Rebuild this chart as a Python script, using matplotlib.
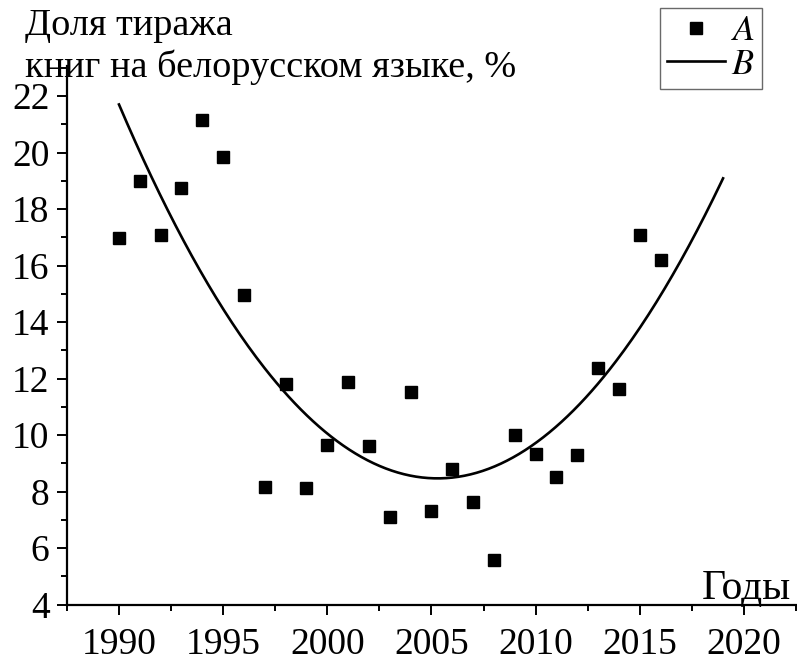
import numpy as np
import matplotlib
matplotlib.use("Agg")
import matplotlib.pyplot as plt
from matplotlib.ticker import MultipleLocator
from matplotlib.lines import Line2D

years = list(range(1990, 2017))
share_a = [16.96, 19.0, 17.07, 18.75, 21.14, 19.83, 14.96, 8.17, 11.81, 8.12,
           9.66, 11.89, 9.6, 7.10, 11.51, 7.31, 8.80, 7.63, 5.58, 10.0,
           9.32, 8.50, 9.29, 12.36, 11.63, 17.08, 16.18]
trend_years = [1990, 2019]

plt.rcParams['font.family'] = ['Liberation Serif', 'DejaVu Serif']
plt.rcParams['mathtext.fontset'] = 'stix'

fig = plt.figure(figsize=(7.97, 6.62), dpi=100)
ax = fig.add_axes([66.9 / 797, (662 - 604.5) / 662, 730.1 / 797, (604.5 - 66) / 662])

ax.plot(years, share_a, linestyle='none', marker='s', markersize=8.8,
        color='black', label='A')

coef = np.polyfit(years, share_a, 2)
xs = np.linspace(trend_years[0], trend_years[1], 300)
ax.plot(xs, np.polyval(coef, xs), color='black', linewidth=1.9, label='B')

ax.set_xlim(1987.5, 2022.55)
ax.set_ylim(4, 4 + (604.5 - 66) / 28.25)
for s in ['top', 'right']:
    ax.spines[s].set_visible(False)
for s in ['left', 'bottom']:
    ax.spines[s].set_linewidth(1.6)

ax.xaxis.set_major_locator(MultipleLocator(5))
ax.xaxis.set_minor_locator(MultipleLocator(2.5))
ax.yaxis.set_minor_locator(MultipleLocator(1))
ax.set_yticks(range(4, 23, 2))
ax.tick_params(which='major', length=7.5, width=1.4, labelsize=27, direction='out')
ax.tick_params(which='minor', length=4.5, width=1.4, direction='out')
ax.tick_params(axis='x', which='major', pad=9)
ax.tick_params(axis='y', which='major', pad=5)

fig.text(25 / 797, 1 - 35 / 662, 'Доля тиража', ha='left', va='baseline', fontsize=27.5)
fig.text(25 / 797, 1 - 77 / 662, 'книг на белорусском языке, %', ha='left',
         va='baseline', fontsize=27.5)
fig.text(791 / 797, 1 - 599 / 662, 'Годы', ha='right', va='baseline', fontsize=30)

handles = [Line2D([], [], linestyle='none', marker='s', markersize=8.8, color='black'),
           Line2D([], [], color='black', linewidth=1.9)]
leg = fig.legend(handles, ['$A$', '$B$'], loc='upper right',
                 bbox_to_anchor=(762 / 797, 1 - 8 / 662), fontsize=26,
                 frameon=True, fancybox=False, borderpad=0.2, labelspacing=0.0,
                 handlelength=1.6, handletextpad=0.15, borderaxespad=0)
leg.get_frame().set_edgecolor('#444444')
leg.get_frame().set_linewidth(1.0)

fig.savefig('out.png', dpi=100)
